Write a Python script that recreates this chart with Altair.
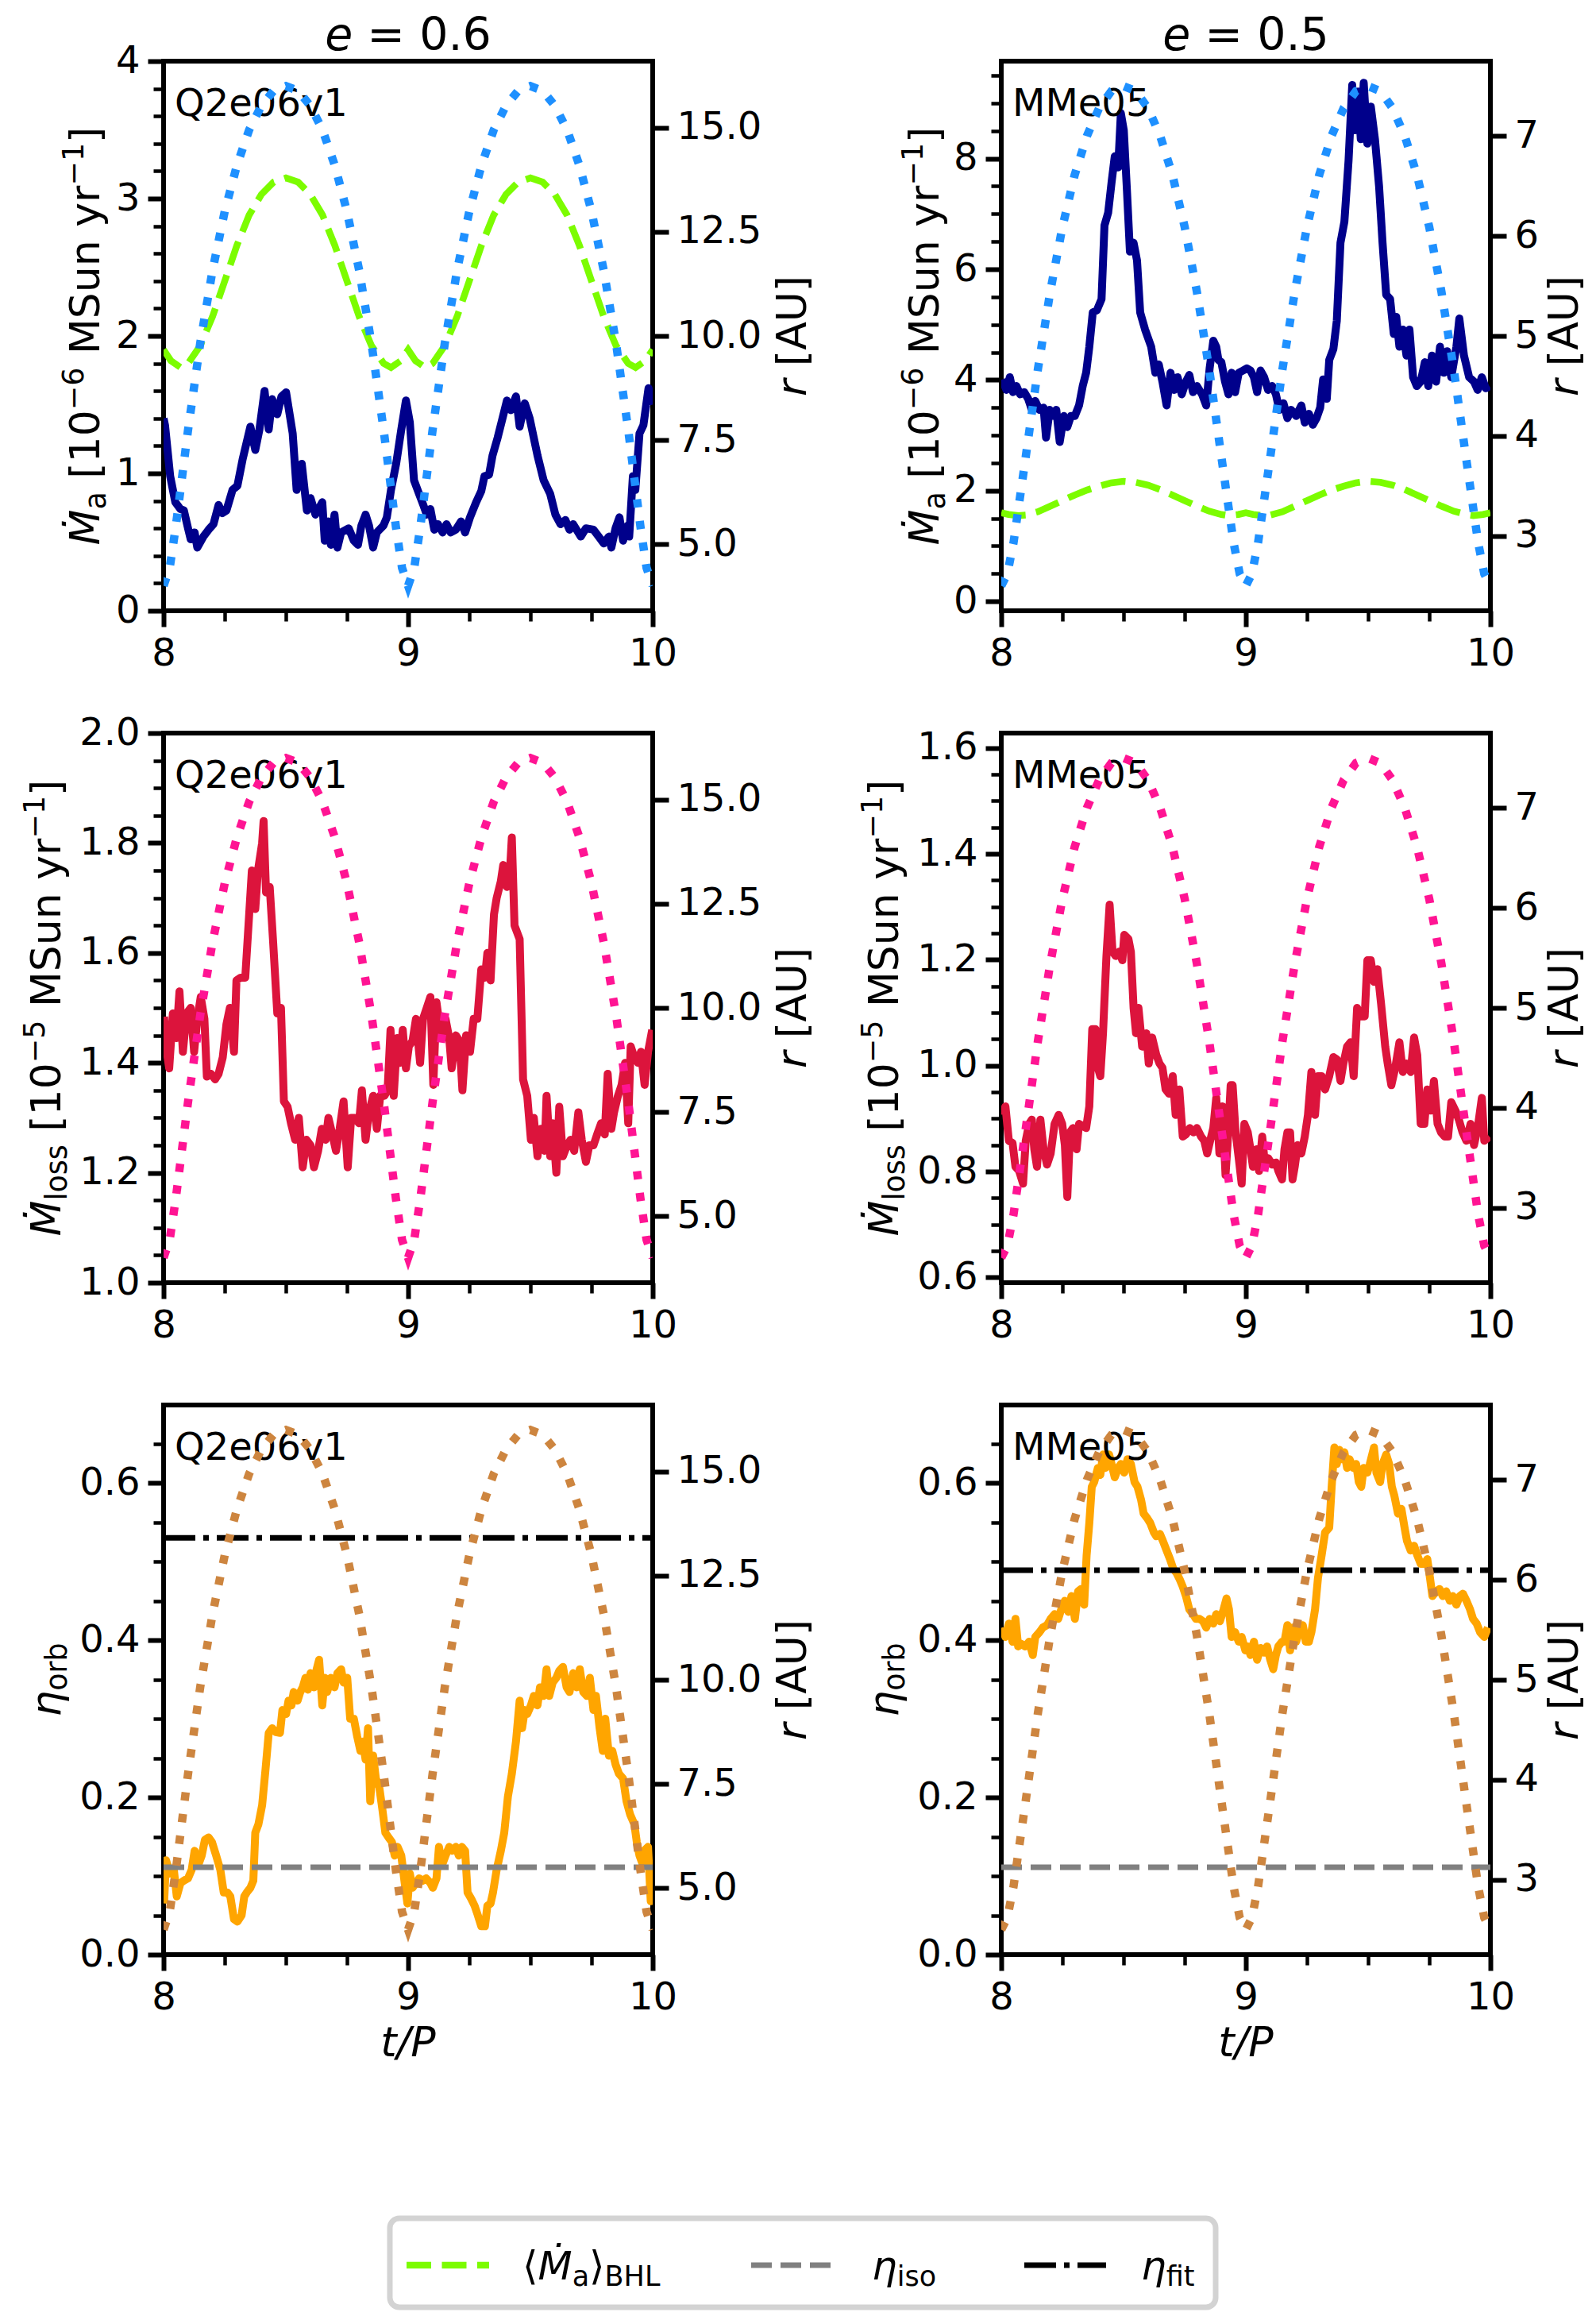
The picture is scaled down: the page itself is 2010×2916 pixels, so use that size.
import altair as alt
import pandas as pd

FONT = "DejaVu Sans"
PW, PH = 616, 692

# ---------------- data ----------------
# orbital separation r [AU] (dotted curves)
t_r = [8.0, 8.025, 8.05, 8.1, 8.15, 8.2, 8.25, 8.3, 8.35, 8.4, 8.45, 8.5, 8.55, 8.6, 8.65, 8.7, 8.75, 8.8, 8.85, 8.9, 8.95, 8.975,
       9.0, 9.025, 9.05, 9.1, 9.15, 9.2, 9.25, 9.3, 9.35, 9.4, 9.45, 9.5, 9.55, 9.6, 9.65, 9.7, 9.75, 9.8, 9.85, 9.9, 9.95, 9.975, 10.0]
r_e06 = [4.0, 4.43, 5.42, 7.74, 9.83, 11.57, 12.99, 14.10, 14.95, 15.53, 15.89, 16.0, 15.89, 15.53, 14.95, 14.10, 12.99, 11.57, 9.83, 7.74, 5.42, 4.43,
         4.0, 4.43, 5.42, 7.74, 9.83, 11.57, 12.99, 14.10, 14.95, 15.53, 15.89, 16.0, 15.89, 15.53, 14.95, 14.10, 12.99, 11.57, 9.83, 7.74, 5.42, 4.43, 4.0]
r_e05 = [2.5, 2.62, 2.93, 3.79, 4.67, 5.44, 6.09, 6.61, 7.00, 7.28, 7.45, 7.5, 7.45, 7.28, 7.00, 6.61, 6.09, 5.44, 4.67, 3.79, 2.93, 2.62,
         2.5, 2.62, 2.93, 3.79, 4.67, 5.44, 6.09, 6.61, 7.00, 7.28, 7.45, 7.5, 7.45, 7.28, 7.00, 6.61, 6.09, 5.44, 4.67, 3.79, 2.93, 2.62, 2.5]

# BHL accretion rate estimate (green dashed)
t_bhl = [8.0, 8.03, 8.07, 8.1, 8.15, 8.2, 8.25, 8.3, 8.35, 8.4, 8.45, 8.5, 8.55, 8.6, 8.65, 8.7, 8.75, 8.8, 8.85, 8.9, 8.93, 8.97,
         9.0, 9.03, 9.07, 9.1, 9.15, 9.2, 9.25, 9.3, 9.35, 9.4, 9.45, 9.5, 9.55, 9.6, 9.65, 9.7, 9.75, 9.8, 9.85, 9.9, 9.93, 9.97, 10.0]
bhl_e06 = [1.90, 1.82, 1.77, 1.80, 1.93, 2.14, 2.40, 2.66, 2.88, 3.03, 3.12, 3.15, 3.12, 3.03, 2.88, 2.66, 2.40, 2.14, 1.93, 1.80, 1.77, 1.82,
           1.90, 1.82, 1.77, 1.80, 1.93, 2.14, 2.40, 2.66, 2.88, 3.03, 3.12, 3.15, 3.12, 3.03, 2.88, 2.66, 2.40, 2.14, 1.93, 1.80, 1.77, 1.82, 1.90]
bhl_e05 = [1.60, 1.57, 1.55, 1.56, 1.62, 1.72, 1.82, 1.92, 2.01, 2.08, 2.14, 2.17, 2.15, 2.10, 2.02, 1.92, 1.82, 1.72, 1.63, 1.57, 1.55, 1.57,
           1.60, 1.57, 1.55, 1.56, 1.62, 1.72, 1.82, 1.92, 2.01, 2.08, 2.14, 2.17, 2.15, 2.10, 2.02, 1.92, 1.82, 1.72, 1.63, 1.57, 1.55, 1.57, 1.60]

# accretion rate, e = 0.6 (navy)
t_acc06 = [8.000, 8.006, 8.027, 8.048, 8.069, 8.083, 8.100, 8.111, 8.127, 8.138, 8.163, 8.184, 8.204, 8.225, 8.240, 8.257, 8.282, 8.302, 8.323, 8.355,
           8.375, 8.392, 8.413, 8.430, 8.444, 8.465, 8.482, 8.501, 8.528, 8.544, 8.565, 8.586, 8.601, 8.621, 8.649, 8.659, 8.674, 8.684, 8.699, 8.711,
           8.726, 8.757, 8.778, 8.795, 8.809, 8.826, 8.840, 8.857, 8.872, 8.899, 8.913, 8.930, 8.951, 8.972, 8.991, 9.007, 9.024, 9.045, 9.062, 9.076,
           9.091, 9.107, 9.122, 9.141, 9.157, 9.174, 9.195, 9.216, 9.233, 9.253, 9.278, 9.299, 9.312, 9.331, 9.345, 9.366, 9.383, 9.404, 9.420, 9.441,
           9.456, 9.477, 9.497, 9.529, 9.554, 9.581, 9.602, 9.623, 9.643, 9.660, 9.675, 9.706, 9.727, 9.758, 9.779, 9.800, 9.821, 9.831, 9.848, 9.864,
           9.879, 9.898, 9.904, 9.919, 9.929, 9.946, 9.962, 9.983, 10.000]
acc06 = [1.40, 1.35, 0.98, 0.79, 0.74, 0.73, 0.60, 0.52, 0.57, 0.46, 0.54, 0.59, 0.63, 0.77, 0.71, 0.73, 0.88, 0.91, 1.10, 1.34,
         1.17, 1.32, 1.60, 1.32, 1.54, 1.43, 1.56, 1.59, 1.29, 0.88, 1.07, 0.73, 0.82, 0.70, 0.79, 0.51, 0.65, 0.48, 0.70, 0.46,
         0.57, 0.60, 0.51, 0.48, 0.62, 0.70, 0.62, 0.46, 0.57, 0.62, 0.68, 0.88, 1.07, 1.32, 1.53, 1.37, 0.95, 0.85, 0.77, 0.70,
         0.74, 0.59, 0.63, 0.57, 0.63, 0.57, 0.59, 0.65, 0.57, 0.68, 0.79, 0.87, 0.98, 0.99, 1.13, 1.26, 1.38, 1.53, 1.46, 1.56,
         1.34, 1.51, 1.40, 1.13, 0.95, 0.85, 0.70, 0.63, 0.66, 0.59, 0.63, 0.54, 0.60, 0.59, 0.54, 0.49, 0.54, 0.46, 0.60, 0.68,
         0.51, 0.62, 0.54, 0.98, 0.88, 1.29, 1.35, 1.62, 1.50]

# accretion rate, e = 0.5 (navy)
t_acc05 = [8.004, 8.021, 8.035, 8.048, 8.062, 8.077, 8.094, 8.110, 8.125, 8.139, 8.156, 8.173, 8.183, 8.198, 8.214, 8.225, 8.239, 8.256, 8.270, 8.285,
           8.301, 8.318, 8.333, 8.347, 8.360, 8.374, 8.391, 8.410, 8.422, 8.437, 8.451, 8.464, 8.478, 8.489, 8.501, 8.514, 8.526, 8.541, 8.555, 8.568,
           8.588, 8.613, 8.630, 8.644, 8.659, 8.676, 8.692, 8.707, 8.721, 8.738, 8.755, 8.769, 8.784, 8.800, 8.821, 8.838, 8.852, 8.867, 8.879, 8.888,
           8.900, 8.915, 8.929, 8.942, 8.956, 8.971, 8.988, 9.004, 9.019, 9.033, 9.046, 9.060, 9.075, 9.091, 9.108, 9.123, 9.137, 9.154, 9.170, 9.185,
           9.206, 9.227, 9.241, 9.258, 9.274, 9.289, 9.304, 9.316, 9.331, 9.341, 9.358, 9.372, 9.387, 9.403, 9.420, 9.435, 9.445, 9.459, 9.470, 9.482,
           9.497, 9.511, 9.528, 9.545, 9.559, 9.574, 9.590, 9.605, 9.615, 9.628, 9.642, 9.657, 9.669, 9.684, 9.699, 9.715, 9.732, 9.746, 9.761, 9.778,
           9.794, 9.809, 9.823, 9.840, 9.861, 9.873, 9.892, 9.913, 9.933, 9.948, 9.965, 9.981, 9.996]
acc05 = [4.01, 3.82, 4.05, 3.78, 3.89, 3.74, 3.78, 3.66, 3.46, 3.62, 3.46, 3.50, 2.96, 3.46, 3.35, 3.46, 2.88, 3.35, 3.15, 3.35,
         3.35, 3.54, 3.89, 4.13, 4.60, 5.22, 5.26, 5.46, 6.79, 7.02, 7.57, 8.04, 7.84, 8.82, 8.51, 7.41, 6.32, 6.48, 6.16, 5.22,
         4.91, 4.60, 4.13, 4.28, 3.97, 3.54, 4.13, 3.82, 4.05, 3.74, 3.97, 4.09, 3.78, 3.89, 3.74, 3.54, 4.21, 4.71, 4.60, 4.36,
         4.32, 3.97, 3.74, 4.13, 3.78, 4.13, 4.17, 4.21, 4.17, 4.05, 3.78, 4.17, 4.05, 3.82, 3.89, 3.74, 3.46, 3.58, 3.31, 3.46,
         3.35, 3.54, 3.23, 3.39, 3.19, 3.31, 3.50, 4.01, 3.66, 4.36, 4.56, 5.07, 6.48, 6.86, 7.96, 9.33, 8.51, 9.21, 8.35, 9.37,
         8.27, 8.94, 8.35, 7.49, 6.48, 5.54, 5.46, 4.83, 5.14, 4.60, 4.91, 4.44, 4.91, 4.05, 3.89, 3.97, 4.32, 3.89, 4.44, 3.97,
         4.60, 4.13, 4.52, 4.05, 4.60, 5.11, 4.44, 4.05, 3.97, 3.82, 4.05, 3.85, 3.89]

# mass-loss rate, e = 0.6 (crimson)
t_loss06 = [8.002, 8.010, 8.023, 8.038, 8.052, 8.065, 8.079, 8.094, 8.111, 8.125, 8.138, 8.152, 8.167, 8.177, 8.194, 8.211, 8.225, 8.242, 8.257, 8.271,
            8.288, 8.298, 8.315, 8.334, 8.350, 8.361, 8.375, 8.386, 8.403, 8.409, 8.419, 8.434, 8.448, 8.465, 8.480, 8.492, 8.507, 8.521, 8.538, 8.553,
            8.569, 8.584, 8.601, 8.615, 8.632, 8.647, 8.663, 8.674, 8.690, 8.705, 8.720, 8.736, 8.753, 8.767, 8.782, 8.799, 8.811, 8.826, 8.840, 8.857,
            8.872, 8.886, 8.903, 8.916, 8.928, 8.941, 8.955, 8.966, 8.978, 8.991, 9.003, 9.018, 9.032, 9.049, 9.061, 9.076, 9.091, 9.103, 9.116, 9.128,
            9.141, 9.153, 9.168, 9.178, 9.195, 9.210, 9.222, 9.237, 9.253, 9.268, 9.283, 9.299, 9.314, 9.324, 9.337, 9.351, 9.362, 9.379, 9.389, 9.404,
            9.414, 9.424, 9.435, 9.456, 9.470, 9.487, 9.502, 9.514, 9.529, 9.543, 9.558, 9.566, 9.581, 9.591, 9.606, 9.618, 9.633, 9.650, 9.664, 9.679,
            9.696, 9.710, 9.727, 9.741, 9.758, 9.773, 9.789, 9.804, 9.816, 9.831, 9.842, 9.858, 9.873, 9.887, 9.900, 9.910, 9.925, 9.940, 9.952, 9.967,
            9.981, 9.998]
loss06 = [1.484, 1.43, 1.39, 1.49, 1.445, 1.53, 1.42, 1.49, 1.50, 1.42, 1.48, 1.52, 1.48, 1.375, 1.38, 1.37, 1.38, 1.41, 1.47, 1.50,
          1.42, 1.55, 1.555, 1.555, 1.67, 1.75, 1.68, 1.75, 1.80, 1.84, 1.71, 1.72, 1.62, 1.49, 1.50, 1.33, 1.32, 1.29, 1.26, 1.30,
          1.21, 1.26, 1.25, 1.21, 1.24, 1.28, 1.26, 1.30, 1.27, 1.24, 1.28, 1.33, 1.21, 1.30, 1.30, 1.29, 1.35, 1.26, 1.31, 1.34,
          1.28, 1.34, 1.34, 1.35, 1.46, 1.34, 1.445, 1.40, 1.46, 1.39, 1.43, 1.44, 1.48, 1.40, 1.48, 1.50, 1.52, 1.36, 1.51, 1.47,
          1.445, 1.48, 1.445, 1.39, 1.45, 1.44, 1.35, 1.45, 1.42, 1.48, 1.48, 1.57, 1.555, 1.60, 1.55, 1.67, 1.70, 1.73, 1.76, 1.72,
          1.73, 1.81, 1.65, 1.625, 1.37, 1.34, 1.26, 1.30, 1.23, 1.28, 1.24, 1.34, 1.23, 1.29, 1.20, 1.32, 1.23, 1.25, 1.26, 1.24,
          1.31, 1.26, 1.22, 1.25, 1.25, 1.27, 1.29, 1.27, 1.38, 1.28, 1.31, 1.34, 1.36, 1.40, 1.29, 1.43, 1.41, 1.40, 1.42, 1.36,
          1.42, 1.46]

# mass-loss rate, e = 0.5 (crimson)
t_loss05 = [8.004, 8.017, 8.031, 8.046, 8.058, 8.073, 8.089, 8.100, 8.114, 8.125, 8.135, 8.146, 8.160, 8.173, 8.187, 8.202, 8.218, 8.235, 8.249, 8.260,
            8.270, 8.281, 8.293, 8.308, 8.318, 8.333, 8.347, 8.360, 8.372, 8.385, 8.395, 8.405, 8.416, 8.430, 8.443, 8.455, 8.468, 8.482, 8.495, 8.503,
            8.520, 8.530, 8.541, 8.551, 8.561, 8.576, 8.593, 8.603, 8.617, 8.634, 8.647, 8.659, 8.672, 8.686, 8.701, 8.713, 8.728, 8.742, 8.755, 8.771,
            8.786, 8.800, 8.817, 8.830, 8.842, 8.854, 8.867, 8.879, 8.892, 8.904, 8.917, 8.925, 8.938, 8.946, 8.958, 8.971, 8.983, 8.994, 9.008, 9.019,
            9.029, 9.044, 9.054, 9.067, 9.079, 9.092, 9.108, 9.123, 9.133, 9.148, 9.158, 9.170, 9.181, 9.191, 9.200, 9.212, 9.227, 9.241, 9.254, 9.268,
            9.283, 9.295, 9.310, 9.324, 9.341, 9.358, 9.372, 9.387, 9.399, 9.414, 9.428, 9.441, 9.455, 9.470, 9.486, 9.497, 9.511, 9.524, 9.538, 9.553,
            9.570, 9.580, 9.595, 9.611, 9.628, 9.642, 9.657, 9.674, 9.688, 9.701, 9.715, 9.730, 9.742, 9.757, 9.769, 9.784, 9.798, 9.813, 9.827, 9.840,
            9.857, 9.871, 9.886, 9.902, 9.919, 9.933, 9.948, 9.965, 9.975, 9.996]
loss05 = [0.907, 0.923, 0.858, 0.854, 0.809, 0.801, 0.777, 0.858, 0.890, 0.898, 0.842, 0.809, 0.898, 0.842, 0.813, 0.834, 0.890, 0.907, 0.890, 0.850,
          0.752, 0.874, 0.882, 0.842, 0.890, 0.886, 0.882, 0.923, 1.069, 1.069, 0.996, 0.980, 1.061, 1.207, 1.304, 1.215, 1.207, 1.215, 1.199, 1.247,
          1.239, 1.215, 1.109, 1.061, 1.109, 1.036, 1.061, 1.004, 1.053, 1.020, 1.004, 0.996, 0.955, 0.947, 0.980, 0.907, 0.955, 0.866, 0.870, 0.882,
          0.874, 0.882, 0.866, 0.858, 0.834, 0.858, 0.882, 0.939, 0.834, 0.923, 0.793, 0.850, 0.963, 0.963, 0.874, 0.825, 0.777, 0.890, 0.874, 0.842,
          0.809, 0.842, 0.801, 0.866, 0.809, 0.825, 0.813, 0.817, 0.801, 0.785, 0.842, 0.874, 0.874, 0.785, 0.809, 0.850, 0.834, 0.866, 0.907, 0.988,
          0.907, 0.980, 0.980, 0.955, 0.980, 1.016, 1.012, 0.971, 1.004, 1.036, 1.044, 0.980, 1.109, 1.093, 1.093, 1.199, 1.199, 1.158, 1.182, 1.117,
          1.036, 1.004, 0.963, 0.996, 1.044, 0.988, 1.004, 0.988, 1.053, 1.020, 0.890, 0.890, 0.955, 0.915, 0.971, 0.890, 0.874, 0.866, 0.866, 0.931,
          0.915, 0.898, 0.874, 0.858, 0.890, 0.850, 0.882, 0.939, 0.858, 0.866]

# orbital efficiency, e = 0.6 (orange)
t_eta06 = [8.002, 8.010, 8.027, 8.042, 8.054, 8.069, 8.083, 8.100, 8.115, 8.127, 8.142, 8.156, 8.169, 8.184, 8.198, 8.215, 8.232, 8.246, 8.261, 8.273,
           8.288, 8.302, 8.319, 8.330, 8.340, 8.355, 8.367, 8.375, 8.388, 8.403, 8.417, 8.430, 8.444, 8.459, 8.476, 8.486, 8.501, 8.511, 8.523, 8.532,
           8.548, 8.559, 8.569, 8.580, 8.590, 8.601, 8.615, 8.626, 8.636, 8.649, 8.659, 8.669, 8.684, 8.699, 8.711, 8.726, 8.736, 8.751, 8.763, 8.778,
           8.792, 8.805, 8.815, 8.826, 8.836, 8.845, 8.857, 8.868, 8.882, 8.895, 8.907, 8.920, 8.934, 8.945, 8.957, 8.972, 8.986, 8.997, 9.007, 9.018,
           9.032, 9.045, 9.059, 9.074, 9.091, 9.101, 9.116, 9.126, 9.139, 9.153, 9.168, 9.180, 9.195, 9.207, 9.220, 9.233, 9.243, 9.258, 9.272, 9.285,
           9.299, 9.314, 9.324, 9.337, 9.347, 9.362, 9.379, 9.393, 9.408, 9.424, 9.441, 9.456, 9.466, 9.477, 9.487, 9.502, 9.514, 9.529, 9.539, 9.554,
           9.566, 9.577, 9.591, 9.606, 9.618, 9.633, 9.648, 9.660, 9.675, 9.689, 9.702, 9.716, 9.731, 9.743, 9.758, 9.768, 9.783, 9.796, 9.806, 9.821,
           9.835, 9.848, 9.862, 9.879, 9.893, 9.908, 9.925, 9.935, 9.946, 9.960, 9.971, 9.981, 9.992, 9.998]
eta06 = [0.065, 0.120, 0.103, 0.108, 0.074, 0.091, 0.094, 0.097, 0.108, 0.132, 0.114, 0.126, 0.146, 0.149, 0.143, 0.126, 0.108, 0.079, 0.079, 0.074,
         0.045, 0.042, 0.050, 0.074, 0.079, 0.085, 0.094, 0.155, 0.166, 0.190, 0.236, 0.282, 0.288, 0.283, 0.282, 0.311, 0.306, 0.323, 0.317, 0.334,
         0.323, 0.334, 0.340, 0.352, 0.337, 0.358, 0.340, 0.363, 0.375, 0.317, 0.352, 0.334, 0.352, 0.340, 0.358, 0.363, 0.346, 0.352, 0.300, 0.300,
         0.277, 0.259, 0.271, 0.248, 0.288, 0.195, 0.253, 0.224, 0.213, 0.184, 0.155, 0.149, 0.143, 0.126, 0.137, 0.126, 0.091, 0.065, 0.103, 0.085,
         0.091, 0.097, 0.094, 0.097, 0.091, 0.085, 0.097, 0.137, 0.114, 0.126, 0.137, 0.132, 0.137, 0.126, 0.137, 0.132, 0.079, 0.071, 0.062, 0.050,
         0.036, 0.036, 0.062, 0.065, 0.079, 0.108, 0.132, 0.155, 0.201, 0.230, 0.271, 0.323, 0.288, 0.311, 0.306, 0.317, 0.329, 0.317, 0.340, 0.329,
         0.363, 0.329, 0.346, 0.352, 0.361, 0.366, 0.340, 0.334, 0.358, 0.340, 0.363, 0.334, 0.329, 0.352, 0.311, 0.329, 0.288, 0.259, 0.300, 0.253,
         0.259, 0.242, 0.230, 0.224, 0.195, 0.178, 0.166, 0.143, 0.126, 0.114, 0.134, 0.137, 0.068, 0.085]

# orbital efficiency, e = 0.5 (orange)
t_eta05 = [8.004, 8.017, 8.031, 8.046, 8.058, 8.069, 8.083, 8.098, 8.114, 8.129, 8.139, 8.156, 8.170, 8.187, 8.202, 8.218, 8.233, 8.245, 8.260, 8.274,
           8.287, 8.301, 8.314, 8.326, 8.339, 8.349, 8.360, 8.370, 8.380, 8.395, 8.405, 8.416, 8.426, 8.441, 8.451, 8.464, 8.478, 8.489, 8.503, 8.516,
           8.530, 8.545, 8.557, 8.572, 8.582, 8.597, 8.609, 8.624, 8.634, 8.649, 8.661, 8.676, 8.690, 8.703, 8.717, 8.730, 8.742, 8.755, 8.769, 8.784,
           8.796, 8.811, 8.825, 8.838, 8.852, 8.867, 8.879, 8.894, 8.909, 8.921, 8.931, 8.942, 8.956, 8.971, 8.983, 8.998, 9.008, 9.019, 9.033, 9.046,
           9.060, 9.075, 9.087, 9.100, 9.112, 9.123, 9.133, 9.148, 9.158, 9.170, 9.181, 9.191, 9.206, 9.216, 9.233, 9.245, 9.258, 9.268, 9.283, 9.295,
           9.310, 9.324, 9.341, 9.351, 9.362, 9.372, 9.383, 9.393, 9.403, 9.414, 9.424, 9.439, 9.451, 9.462, 9.472, 9.482, 9.497, 9.507, 9.524, 9.534,
           9.549, 9.559, 9.574, 9.586, 9.597, 9.607, 9.622, 9.636, 9.649, 9.659, 9.674, 9.688, 9.701, 9.715, 9.730, 9.742, 9.753, 9.763, 9.778, 9.792,
           9.805, 9.819, 9.834, 9.846, 9.861, 9.875, 9.888, 9.902, 9.917, 9.929, 9.944, 9.958, 9.975, 9.990]
eta05 = [0.416, 0.404, 0.421, 0.398, 0.427, 0.392, 0.395, 0.392, 0.398, 0.381, 0.404, 0.410, 0.416, 0.419, 0.427, 0.433, 0.427, 0.439, 0.450, 0.436,
         0.456, 0.427, 0.462, 0.465, 0.445, 0.508, 0.549, 0.595, 0.601, 0.619, 0.610, 0.636, 0.619, 0.636, 0.624, 0.607, 0.619, 0.624, 0.613, 0.630,
         0.624, 0.601, 0.595, 0.578, 0.561, 0.555, 0.549, 0.537, 0.532, 0.535, 0.526, 0.514, 0.503, 0.491, 0.485, 0.477, 0.468, 0.456, 0.439, 0.433,
         0.427, 0.427, 0.424, 0.416, 0.427, 0.421, 0.433, 0.424, 0.439, 0.453, 0.439, 0.404, 0.410, 0.398, 0.404, 0.387, 0.392, 0.381, 0.398, 0.375,
         0.390, 0.384, 0.392, 0.375, 0.363, 0.381, 0.392, 0.398, 0.398, 0.419, 0.387, 0.416, 0.398, 0.410, 0.419, 0.398, 0.398, 0.410, 0.439, 0.479,
         0.508, 0.537, 0.543, 0.595, 0.645, 0.624, 0.642, 0.630, 0.639, 0.619, 0.630, 0.619, 0.624, 0.601, 0.595, 0.619, 0.613, 0.624, 0.645, 0.613,
         0.601, 0.624, 0.636, 0.624, 0.595, 0.584, 0.561, 0.567, 0.543, 0.526, 0.514, 0.520, 0.508, 0.497, 0.497, 0.503, 0.479, 0.456, 0.462, 0.465,
         0.456, 0.462, 0.450, 0.456, 0.445, 0.456, 0.459, 0.450, 0.439, 0.427, 0.421, 0.410, 0.404, 0.416]

eta_iso = 0.111
eta_fit_e06 = 0.530
eta_fit_e05 = 0.489

# ---------------- styling helpers ----------------
CW = {' ': 0.318, '[': 0.390, ']': 0.390, '.': 0.318, 'M': 0.863, 'Ṁ': 0.863, 'S': 0.635, 'u': 0.634,
      'n': 0.634, 'y': 0.592, 'r': 0.411, 'a': 0.613, 'l': 0.278, 'o': 0.612, 's': 0.521, '−': 0.838,
      'A': 0.684, 'U': 0.732, 'b': 0.635, 'η': 0.634, 't': 0.392, '/': 0.337, 'P': 0.603, 'e': 0.615,
      '=': 0.838, 'i': 0.278, 'f': 0.352, 'B': 0.686, 'H': 0.752, 'L': 0.557, '⟨': 0.39, '⟩': 0.39,
      'Q': 0.787, 'v': 0.592}
for d in "0123456789":
    CW[d] = 0.636

MAIN_W = 10
DOT_W = 10.5
DOT_DASH = [10.5, 17]
GREEN_W, GREEN_DASH = 8.5, [31, 13.5]
GRAY_W, GRAY_DASH = 7, [26, 11]
FIT_W, FIT_DASH = 7, [40, 10, 7, 10]


def strw(s, z):
    return sum(CW.get(c, 0.6) for c in s) * z


def rich(pieces, x, y, fs, angle=0, align="center"):
    sizes = [fs * (0.7 if k != "n" else 1.0) for _, _, k in pieces]
    widths = [strw(s, z) for (s, _, _), z in zip(pieces, sizes)]
    total = sum(widths)
    cum = -total / 2 if align == "center" else 0.0
    rows = []
    for (s, it, k), z, w in zip(pieces, sizes, widths):
        sh = 0.16 * fs if k == "sub" else (-0.38 * fs if k == "sup" else 0.0)
        lead = len(s) - len(s.lstrip(" "))
        off = cum + strw(" " * lead, z)
        txt = s.strip(" ")
        if angle == 0:
            px, py = x + off, y + sh
        else:
            px, py = x + sh, y - off
        rows.append({"text": txt, "px": px, "py": py, "fs": z, "ang": angle, "it": it})
        cum += w
    return rows


def text_layers(rows):
    out = []
    for it in (False, True):
        sub = [r for r in rows if r["it"] == it]
        if not sub:
            continue
        out.append(
            alt.Chart(pd.DataFrame(sub)).mark_text(
                align="left", baseline="alphabetic", font=FONT,
                fontStyle="italic" if it else "normal", color="black"
            ).encode(
                x=alt.X("px:Q", scale=None, axis=None),
                y=alt.Y("py:Q", scale=None, axis=None),
                text=alt.Text("text:N"),
                size=alt.Size("fs:Q", scale=None, legend=None),
                angle=alt.Angle("ang:Q", scale=None, legend=None),
            )
        )
    return out


def is_major(step):
    return f"abs(datum.value/{step} - round(datum.value/{step})) < 1e-4"


def cond_size(step):
    return {"condition": {"test": is_major(step), "value": 20}, "value": 13}


def cond_width(step):
    return {"condition": {"test": is_major(step), "value": 6}, "value": 4.5}


X_TICKS = [8.0, 8.25, 8.5, 8.75, 9.0, 9.25, 9.5, 9.75, 10.0]
X_AXIS = alt.Axis(values=X_TICKS, orient="bottom", title=None,
                  labelExpr=f"{is_major(1)} ? format(datum.value, 'd') : ''",
                  tickSize=cond_size(1), tickWidth=cond_width(1))
X_ENC = alt.X("t:Q", scale=alt.Scale(domain=[8, 10], nice=False, zero=False), axis=X_AXIS)

ONE = pd.DataFrame({"k": [0]})


def panel(main_t, main_v, color, ldom, lticks, lstep, lfmt, extras, r_vals, rdom, rticks, rfmt, rcolor,
          title, ann, ltitle, ltitle_x, rtitle_x, xlabel=False, legend=False, anchor=False):
    yscale = alt.Scale(domain=ldom, nice=False, zero=False)
    yax = alt.Axis(values=lticks, orient="left", title=None,
                   labelExpr=f"{is_major(lstep)} ? format(datum.value, '{lfmt}') : ''",
                   tickSize=cond_size(lstep), tickWidth=cond_width(lstep))
    main = alt.Chart(pd.DataFrame({"t": main_t, "v": main_v})).mark_line(
        color=color, strokeWidth=MAIN_W, strokeJoin="round", clip=True
    ).encode(x=X_ENC, y=alt.Y("v:Q", scale=yscale, axis=yax))
    lefts = [main]
    for (et, ev, ecol, ew, edash) in extras:
        lefts.append(
            alt.Chart(pd.DataFrame({"t": et, "v": ev})).mark_line(
                color=ecol, strokeWidth=ew, strokeDash=edash, clip=True
            ).encode(x=X_ENC, y=alt.Y("v:Q", scale=yscale, axis=yax))
        )
    left_layer = alt.layer(*lefts)

    right = alt.Chart(pd.DataFrame({"t": t_r, "v": r_vals})).mark_line(
        color=rcolor, strokeWidth=DOT_W, strokeDash=DOT_DASH, clip=True
    ).encode(
        x=X_ENC,
        y=alt.Y("v:Q", scale=alt.Scale(domain=rdom, nice=False, zero=False),
                axis=alt.Axis(values=rticks, orient="right", title=None, format=rfmt,
                              tickSize=20, tickWidth=6)),
    )

    ann_rows = rich([(ann, False, "n")], 14, 69, 48, align="left")
    rows = []
    if title:
        rows += rich(title, PW / 2, -14, 57)
    rows += rich(ltitle, ltitle_x, PH / 2, 52, angle=270)
    rows += rich([("r", True, "n"), (" [AU]", False, "n")], rtitle_x, PH / 2, 52, angle=270)
    if xlabel:
        rows += rich([("t/P", True, "n")], PW / 2, PH + 128, 52)

    layers = [left_layer] + text_layers(ann_rows) + [right] + text_layers(rows)

    if legend:
        layers.append(alt.Chart(ONE).mark_rect(fill="white", stroke="#d3d3d3", strokeWidth=7, cornerRadius=12)
                      .encode(x=alt.value(285), x2=alt.value(1325), y=alt.value(1024), y2=alt.value(1136)))
        for (x1, x2, col, w, dash) in [(306, 410, "#7CFC00", GREEN_W, GREEN_DASH),
                                       (740, 845, "#808080", GRAY_W, GRAY_DASH),
                                       (1084, 1187, "black", FIT_W, FIT_DASH)]:
            layers.append(alt.Chart(ONE).mark_rule(color=col, strokeWidth=w, strokeDash=dash)
                          .encode(x=alt.value(x1), x2=alt.value(x2), y=alt.value(1083)))
        lrows = rich([("⟨", False, "n"), ("Ṁ", True, "n"), ("a", False, "sub"), ("⟩", False, "n"),
                      ("BHL", False, "sub")], 452, 1101, 50, align="left")
        lrows += rich([("η", True, "n"), ("iso", False, "sub")], 892, 1101, 50, align="left")
        lrows += rich([("η", True, "n"), ("fit", False, "sub")], 1231, 1101, 50, align="left")
        layers += text_layers(lrows)

    if anchor:
        layers.append(alt.Chart(ONE).mark_point(opacity=0, filled=True, size=1)
                      .encode(x=alt.value(-202.5), y=alt.value(-73.5)))

    return alt.layer(*layers).resolve_scale(y="independent").properties(width=PW, height=PH)


MA_TITLE = [("Ṁ", True, "n"), ("a", False, "sub"), (" [10", False, "n"), ("−6", False, "sup"),
            (" MSun yr", False, "n"), ("−1", False, "sup"), ("]", False, "n")]
ML_TITLE = [("Ṁ", True, "n"), ("loss", False, "sub"), (" [10", False, "n"), ("−5", False, "sup"),
            (" MSun yr", False, "n"), ("−1", False, "sup"), ("]", False, "n")]
ETA_TITLE = [("η", True, "n"), ("orb", False, "sub")]

R06_DOM, R06_TICKS = [3.4, 16.6], [5.0, 7.5, 10.0, 12.5, 15.0]
R05_DOM, R05_TICKS = [2.25, 7.75], [3, 4, 5, 6, 7]

p1 = panel(t_acc06, acc06, "#00008B", [0, 4], [round(0.2 * i, 2) for i in range(21)], 1, "d",
           [(t_bhl, bhl_e06, "#7CFC00", GREEN_W, GREEN_DASH)], r_e06, R06_DOM, R06_TICKS, ".1f", "#1E90FF",
           [("e", True, "n"), (" = 0.6", False, "n")], "Q2e06v1", MA_TITLE, -81, PW + 193, anchor=True)
p2 = panel(t_acc05, acc05, "#00008B", [-0.17, 9.76], [0.5 * i for i in range(20)], 2, "d",
           [(t_bhl, bhl_e05, "#7CFC00", GREEN_W, GREEN_DASH)], r_e05, R05_DOM, R05_TICKS, "d", "#1E90FF",
           [("e", True, "n"), (" = 0.5", False, "n")], "MMe05", MA_TITLE, -79, PW + 110)
p3 = panel(t_loss06, loss06, "#DC143C", [1.0, 2.0], [round(1 + 0.05 * i, 2) for i in range(21)], 0.2, ".1f",
           [], r_e06, R06_DOM, R06_TICKS, ".1f", "#FF1493",
           None, "Q2e06v1", ML_TITLE, -130, PW + 193)
p4 = panel(t_loss05, loss05, "#DC143C", [0.59, 1.628], [round(0.6 + 0.05 * i, 2) for i in range(21)], 0.2, ".1f",
           [], r_e05, R05_DOM, R05_TICKS, "d", "#FF1493",
           None, "MMe05", ML_TITLE, -130, PW + 110)
p5 = panel(t_eta06, eta06, "#FFA500", [0, 0.699], [round(0.05 * i, 2) for i in range(14)], 0.2, ".1f",
           [([8, 10], [eta_iso, eta_iso], "#808080", GRAY_W, GRAY_DASH),
            ([8, 10], [eta_fit_e06, eta_fit_e06], "black", FIT_W, FIT_DASH)],
           r_e06, R06_DOM, R06_TICKS, ".1f", "#CD853F",
           None, "Q2e06v1", ETA_TITLE, -130, PW + 193, xlabel=True, legend=True)
p6 = panel(t_eta05, eta05, "#FFA500", [0, 0.699], [round(0.05 * i, 2) for i in range(14)], 0.2, ".1f",
           [([8, 10], [eta_iso, eta_iso], "#808080", GRAY_W, GRAY_DASH),
            ([8, 10], [eta_fit_e05, eta_fit_e05], "black", FIT_W, FIT_DASH)],
           r_e05, R05_DOM, R05_TICKS, "d", "#CD853F",
           None, "MMe05", ETA_TITLE, -130, PW + 110, xlabel=True)

chart = alt.concat(p1, p2, p3, p4, p5, p6, columns=2, spacing={"row": 154, "column": 439}, bounds="flush")
chart = chart.configure(font=FONT).configure_view(stroke="black", strokeWidth=6).configure_axis(
    labelFont=FONT, labelFontSize=48, labelColor="black", tickColor="black", labelPadding=10,
    domain=False, grid=False, labelFlush=False, labelOverlap=False
).properties(padding=0, background="white")

chart.save("out.html", embed_options={"renderer": "svg", "actions": False})
